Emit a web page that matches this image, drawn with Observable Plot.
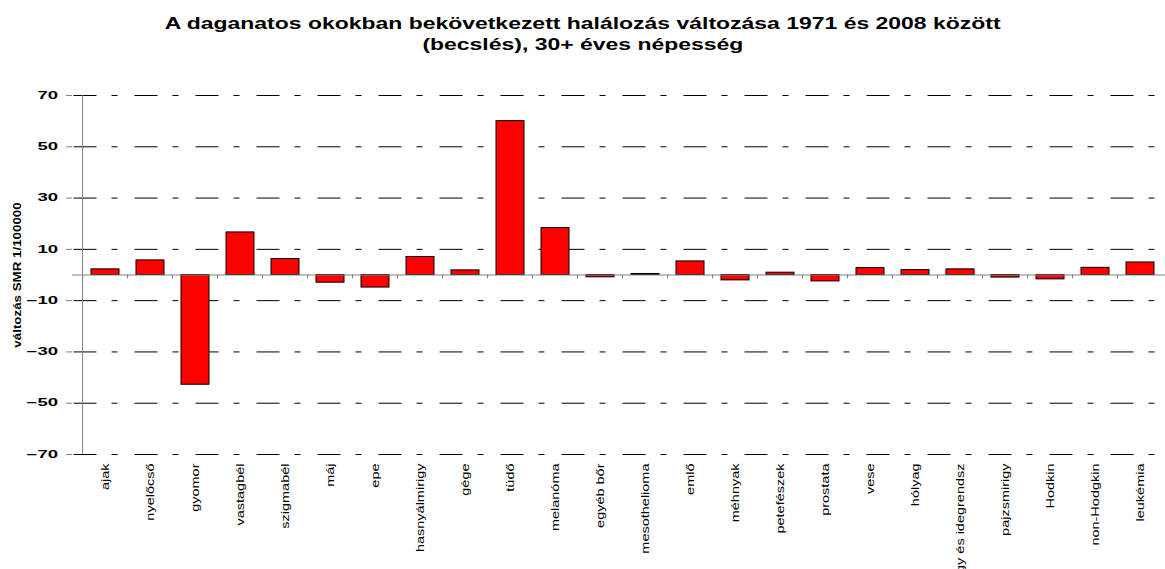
<!DOCTYPE html>
<html>
<head>
<meta charset="utf-8">
<script src="https://cdn.jsdelivr.net/npm/d3@7"></script>
<script src="https://cdn.jsdelivr.net/npm/@observablehq/plot@0.6"></script>
<style>
  body { margin: 0; background: #fff; width: 1165px; height: 569px; overflow: hidden;
         font-family: "Liberation Sans", Arial, sans-serif; }
  #title { height: 70px; box-sizing: border-box; padding-top: 12.6px; text-align: center;
           font-weight: bold; font-size: 17px; line-height: 21px; color: #000; }
  #title span { display: inline-block; transform: scaleX(1.35); transform-origin: center; white-space: nowrap; }
  #chart svg { display: block; }
</style>
</head>
<body>
<div id="title"></div>
<div id="chart"></div>
<script>
const titleLines = [
  "A daganatos okokban bekövetkezett halálozás változása 1971 és 2008 között",
  "(becslés), 30+ éves népesség"
];
const yLabel = "változás SMR 1/100000";
const categories = [
  "ajak", "nyelőcső", "gyomor", "vastagbél", "szigmabél", "máj", "epe",
  "hasnyálmirigy", "gége", "tüdő", "melanóma", "egyéb bőr", "mesothelioma",
  "emlő", "méhnyak", "petefészek", "prostata", "vese", "hólyag",
  "agy és idegrendsz", "pajzsmirigy", "Hodkin", "non-Hodgkin", "leukémia"
];
const values = [
  2.2, 5.7, -42.8, 16.6, 6.2, -3.0, -4.9,
  7.0, 1.8, 60.0, 18.3, -0.9, 0.4,
  5.3, -2.1, 0.9, -2.5, 2.7, 1.9,
  2.2, -1.0, -1.7, 2.8, 4.9
];
const yTicks = [70, 50, 30, 10, -10, -30, -50, -70];

// title
const titleDiv = document.getElementById("title");
titleLines.forEach((t, i) => {
  if (i > 0) titleDiv.appendChild(document.createElement("br"));
  const s = document.createElement("span");
  s.textContent = t;
  titleDiv.appendChild(s);
});

const data = categories.map((c, i) => ({cause: c, value: values[i]}));
const x0 = 72, x1 = 1172.4;
const step = (x1 - x0) / categories.length;

const chart = Plot.plot({
  width: 1165,
  height: 499,
  marginTop: 25,
  marginBottom: 115,
  marginLeft: 72,
  marginRight: 0,
  style: {fontFamily: '"Liberation Sans", Arial, sans-serif', background: "white", overflow: "visible", color: "black"},
  x: {type: "band", domain: categories, range: [x0, x1], paddingInner: 0.37, paddingOuter: 0.185, label: null},
  y: {domain: [-70, 70], label: null},
  marks: [
    Plot.ruleY(yTicks, {stroke: "black", strokeWidth: 1, strokeDasharray: "23,15,6,17", strokeDashoffset: -1.5}),
    Plot.barY(data, {x: "cause", y: "value", fill: "#ff0000", stroke: "black", strokeWidth: 1}),
    Plot.ruleY([0], {stroke: "#808080"}),
    Plot.ruleX(categories, {x: d => d, y1: 0, y2: 0, insetBottom: -4, dx: -step / 2, stroke: "#808080"}),
    Plot.ruleX([categories[0]], {x: d => d, y1: -70, y2: 70, dx: -step / 2, stroke: "#808080"}),
    Plot.axisY(yTicks, {tickSize: 6, tickPadding: 8.5, fontWeight: "bold", fontSize: 10, stroke: "#808080", fill: "black", label: null}),
    Plot.axisX({tickSize: 0, tickPadding: 9, tickRotate: -90, fontSize: 10, fill: "black", label: null}),
    Plot.text([yLabel], {frameAnchor: "left", textAnchor: "middle", dx: -55, rotate: -90, fontWeight: "bold", fontSize: 10.5, fill: "black"})
  ]
});

function stretch(sel, sx) {
  chart.querySelectorAll(sel).forEach(t => {
    const tr = t.getAttribute("transform") || "";
    const x = parseFloat(t.getAttribute("x")) || 0;
    const y = parseFloat(t.getAttribute("y")) || 0;
    t.setAttribute("transform", `${tr} translate(${x},${y}) scale(${sx},1) translate(${-x},${-y})`);
  });
}
stretch('g[aria-label="y-axis tick label"] text', 1.85);
stretch('g[aria-label="x-axis tick label"] text', 1.45);
stretch('g[aria-label="text"] text', 1.27);

document.getElementById("chart").appendChild(chart);
</script>
</body>
</html>
